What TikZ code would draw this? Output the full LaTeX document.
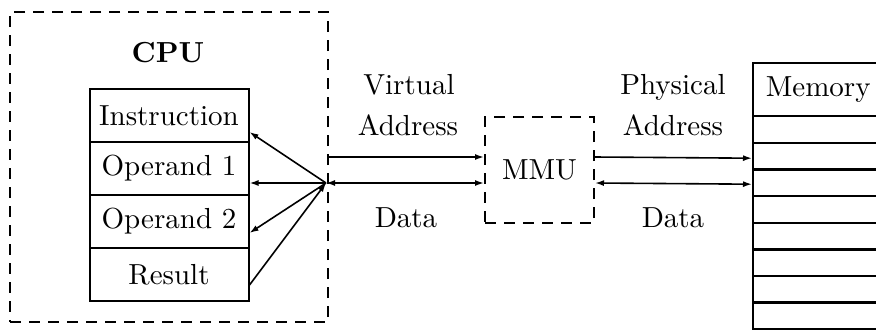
\documentclass[tikz,border=0pt]{standalone}
\usepackage{graphicx}
\usetikzlibrary{arrows.meta}
\newcommand{\bigtxt}[1]{\scalebox{2.9}{#1}}
\begin{document}
\begin{tikzpicture}[x=1pt,y=-1pt,
  reg/.style={draw, line width=2pt, minimum width=159pt, minimum height=53pt, inner sep=0pt},
  memrow/.style={draw, line width=2.4pt, minimum width=130pt, minimum height=27pt, inner sep=0pt, anchor=north west},
  dbox/.style={draw, line width=2pt, dash pattern=on 11pt off 8pt, inner sep=0pt},
  lbl/.style={inner sep=0pt, anchor=base},
  arr/.style={line width=1.6pt, -{Latex[length=9pt,width=6pt]}},
  darr/.style={line width=1.6pt, {Latex[length=9pt,width=6pt]}-{Latex[length=9pt,width=6pt]}}]
\clip (0,0) rectangle (876,333);
% CPU
\node[dbox, minimum width=318pt, minimum height=310pt] (cpu) at (169,167) {};
\node[lbl] (cpulbl) at (168,62) {\bigtxt{\textbf{CPU}}};
\node[reg] (instr) at (169,115.5) {\bigtxt{Instruction}};
\node[reg] (op1) at (169,168.5) {\bigtxt{Operand 1}};
\node[reg] (op2) at (169,221.5) {\bigtxt{Operand 2}};
\node[reg] (res) at (169,274.5) {\bigtxt{Result}};
\coordinate (J) at (326,183);
\draw[arr] (J) -- ([yshift=-16.5pt]instr.east);
\draw[arr] (J) -- ([yshift=-14.5pt]op1.east);
\draw[arr] (J) -- ([yshift=-11.5pt]op2.east);
\draw[arr] ([yshift=-10.5pt]res.east) -- (J);
% MMU
\node[dbox, minimum width=109pt, minimum height=106pt] (mmu) at (539.5,170) {\bigtxt{MMU}};
\draw[arr] ([yshift=10pt]cpu.east) -- ([yshift=13pt]mmu.west);
\draw[darr] (J) -- ([yshift=-13pt]mmu.west);
\node[lbl] (virt) at (409,94) {\bigtxt{Virtual}};
\node[lbl] (vaddr) at (408,135) {\bigtxt{Address}};
\node[lbl] (vdata) at (406,227) {\bigtxt{Data}};
% Memory
\node[memrow, minimum height=53pt] (memhead) at (752,62) {\bigtxt{Memory}};
\node[memrow] (m1) at (752,115) {};
\node[memrow] (m2) at (752,142) {};
\node[memrow] (m3) at (752,168) {};
\node[memrow] (m4) at (752,195) {};
\node[memrow] (m5) at (752,222) {};
\node[memrow] (m6) at (752,248) {};
\node[memrow] (m7) at (752,275) {};
\node[memrow] (m8) at (752,301) {};
\draw[arr] ([yshift=13pt]mmu.east) -- ([yshift=-1.5pt]m2.west);
\draw[darr] ([yshift=-13pt]mmu.east) -- ([yshift=-1.5pt]m3.west);
\node[lbl] (phys) at (673,94) {\bigtxt{Physical}};
\node[lbl] (paddr) at (673,135) {\bigtxt{Address}};
\node[lbl] (pdata) at (673,227) {\bigtxt{Data}};
\end{tikzpicture}
\end{document}
